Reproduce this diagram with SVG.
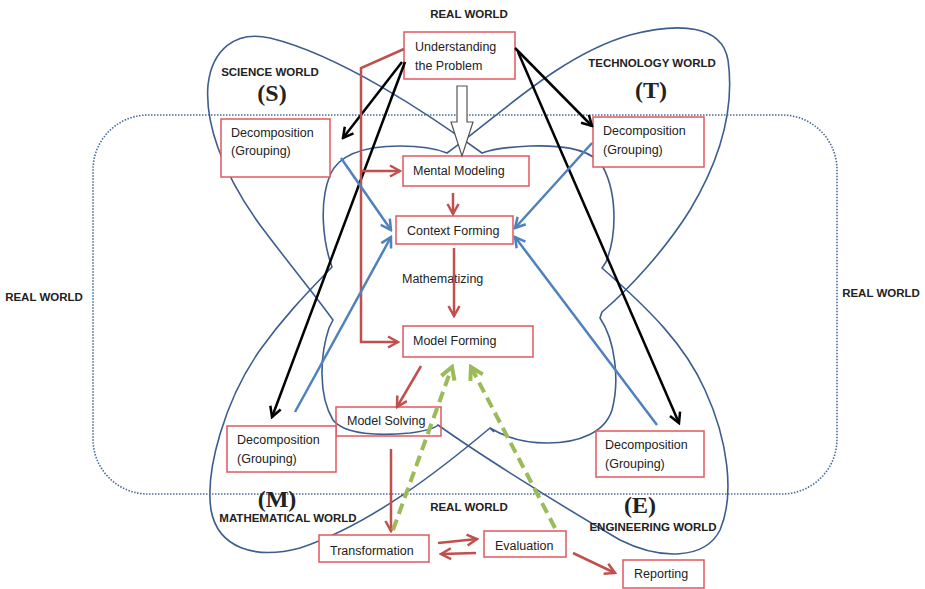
<svg xmlns="http://www.w3.org/2000/svg" width="925" height="589" viewBox="0 0 925 589">
<style>
.bx{fill:#fff;stroke:#e0585f;stroke-width:1.5}
.bxn{fill:none;stroke:#e0585f;stroke-width:1.5}
.t{font-family:"Liberation Sans",Arial,sans-serif;font-size:12.5px;fill:#222}
.lb{font-family:"Liberation Sans",Arial,sans-serif;font-size:11.5px;font-weight:bold;fill:#222}
.big{font-family:"Liberation Serif","Times New Roman",serif;font-size:24px;font-weight:bold;fill:#222}
.out{fill:none;stroke:#3d5d8e;stroke-width:1.6;stroke-linejoin:miter}
.ak{fill:none;stroke:#000;stroke-width:2.5}
.ar{fill:none;stroke:#c0504d;stroke-width:2.5}
.ab{fill:none;stroke:#4f81bd;stroke-width:2.5}
.ag{fill:none;stroke:#9bbb59;stroke-width:4;stroke-dasharray:11 6}
</style>
<defs>
<marker id="mk" viewBox="0 0 14 14" refX="12" refY="7" markerWidth="14" markerHeight="14" markerUnits="userSpaceOnUse" orient="auto"><path d="M2,1.5 L12,7 L2,12.5" fill="none" stroke="#000" stroke-width="2.5"/></marker>
<marker id="mr" viewBox="0 0 14 14" refX="12" refY="7" markerWidth="14" markerHeight="14" markerUnits="userSpaceOnUse" orient="auto"><path d="M2,1.5 L12,7 L2,12.5" fill="none" stroke="#c0504d" stroke-width="2.5"/></marker>
<marker id="mb" viewBox="0 0 14 14" refX="12" refY="7" markerWidth="14" markerHeight="14" markerUnits="userSpaceOnUse" orient="auto"><path d="M2,1.5 L12,7 L2,12.5" fill="none" stroke="#4f81bd" stroke-width="2.5"/></marker>
<marker id="mg" viewBox="0 0 18 18" refX="15" refY="9" markerWidth="18" markerHeight="18" markerUnits="userSpaceOnUse" orient="auto"><path d="M3,2 L15,9 L3,16" fill="none" stroke="#9bbb59" stroke-width="4"/></marker>
</defs>
<rect width="925" height="589" fill="#fff"/>

<g id="worlds">
<path class="out" d="M332,267 C324,245 318,205 330,175 C340,152 370,146 400,146 C420,146 437,149 447,153 L447,153 C500,115 560,55 630,35 C680,22 722,25 728,60 C735,110 720,160 690,210 C665,250 630,288 602,312 L600,318 C615,340 620,380 612,410 C605,432 580,443 547,443 C525,443 505,437 490,428 L494,432 L490,428 C440,470 370,525 300,548 C255,560 218,548 211,510 C205,470 225,400 260,350 C285,315 310,290 332,267 Z"/>
<path class="out" d="M333,320 L329,328 C320,355 318,395 333,420 C345,435 380,436 410,433 C425,431 435,428 438,425 C480,455 560,505 620,540 C660,560 705,560 720,530 C735,495 728,440 705,390 C685,345 650,310 602,268 L606,262 C617,235 618,190 600,162 C585,148 560,145 530,146 C505,147 490,150 482,153 C430,115 340,55 270,38 C235,30 212,50 208,85 C205,120 220,170 260,225 C290,265 315,295 333,320 Z"/>
<rect x="93" y="115" width="744" height="379" rx="55" fill="none" stroke="#4a6b9c" stroke-width="1.6" stroke-dasharray="1.5 1.5"/>
</g>

<g id="labels">
<text class="lb" x="469" y="18" text-anchor="middle">REAL WORLD</text>
<text class="lb" x="270" y="76" text-anchor="middle">SCIENCE WORLD</text>
<text class="big" x="272" y="101" text-anchor="middle">(S)</text>
<text class="lb" x="652" y="67" text-anchor="middle">TECHNOLOGY WORLD</text>
<text class="big" x="651" y="98" text-anchor="middle">(T)</text>
<text class="lb" x="44" y="301" text-anchor="middle">REAL WORLD</text>
<text class="lb" x="881" y="297" text-anchor="middle">REAL WORLD</text>
<text class="big" x="277" y="507" text-anchor="middle">(M)</text>
<text class="lb" x="288" y="522" text-anchor="middle">MATHEMATICAL WORLD</text>
<text class="lb" x="469" y="511" text-anchor="middle">REAL WORLD</text>
<text class="big" x="640" y="513" text-anchor="middle">(E)</text>
<text class="lb" x="653" y="531" text-anchor="middle">ENGINEERING WORLD</text>
<text class="t" x="402" y="283">Mathematizing</text>
</g>

<g id="n-understanding"><rect class="bx" x="404" y="32" width="111" height="47"/><text class="t" x="415" y="51">Understanding</text><text class="t" x="415" y="70">the Problem</text></g>
<g id="n-decomp-s"><rect class="bx" x="221" y="119" width="109" height="58"/><text class="t" x="231" y="137">Decomposition</text><text class="t" x="231" y="155">(Grouping)</text></g>
<g id="n-decomp-t"><rect class="bx" x="593" y="117" width="111" height="50"/><text class="t" x="603" y="135">Decomposition</text><text class="t" x="603" y="154">(Grouping)</text></g>
<g id="n-mental"><rect class="bx" x="403" y="156" width="126" height="30"/><text class="t" x="413" y="175">Mental Modeling</text></g>
<g id="n-context"><rect class="bx" x="396" y="216" width="117" height="28"/><text class="t" x="407" y="235">Context Forming</text></g>
<g id="n-model-forming"><rect class="bx" x="403" y="326" width="130" height="31"/><text class="t" x="413" y="345">Model Forming</text></g>
<g id="n-model-solving"><rect class="bxn" x="336" y="407" width="105" height="29"/><text class="t" x="347" y="425">Model Solving</text></g>
<g id="n-decomp-m"><rect class="bx" x="227" y="426" width="109" height="46"/><text class="t" x="237" y="444">Decomposition</text><text class="t" x="237" y="463">(Grouping)</text></g>
<g id="n-decomp-e"><rect class="bx" x="596" y="431" width="108" height="46"/><text class="t" x="605" y="449">Decomposition</text><text class="t" x="605" y="468">(Grouping)</text></g>
<g id="n-transformation"><rect class="bx" x="319" y="535" width="110" height="27"/><text class="t" x="330" y="555">Transformation</text></g>
<g id="n-evaluation"><rect class="bx" x="484" y="531" width="82" height="26"/><text class="t" x="495" y="550">Evaluation</text></g>
<g id="n-reporting"><rect class="bx" x="623" y="560" width="81" height="28"/><text class="t" x="634" y="578">Reporting</text></g>

<g id="connectors">
<polygon points="457,86 467,86 467,122 473,122 462,156 451,122 457,122" fill="#fff" stroke="#555" stroke-width="1.2"/>
<line class="ak" x1="402" y1="62" x2="343" y2="138" marker-end="url(#mk)"/>
<line class="ak" x1="405" y1="62" x2="272" y2="417" marker-end="url(#mk)"/>
<line class="ak" x1="515" y1="48" x2="592" y2="126" marker-end="url(#mk)"/>
<line class="ak" x1="518" y1="52" x2="679" y2="423" marker-end="url(#mk)"/>
<polyline class="ar" points="404,49 361,68 361,342 398,342" marker-end="url(#mr)"/>
<line class="ar" x1="361" y1="171" x2="400" y2="171" marker-end="url(#mr)"/>
<line class="ar" x1="453" y1="193" x2="453" y2="214" marker-end="url(#mr)"/>
<line class="ar" x1="454" y1="248" x2="454" y2="316" marker-end="url(#mr)"/>
<line class="ar" x1="421" y1="366" x2="397" y2="407" marker-end="url(#mr)"/>
<line class="ar" x1="391" y1="449" x2="391" y2="531" marker-end="url(#mr)"/>
<line class="ar" x1="438" y1="543" x2="477" y2="539" marker-end="url(#mr)"/>
<line class="ar" x1="476" y1="553" x2="441" y2="554" marker-end="url(#mr)"/>
<line class="ar" x1="573" y1="553" x2="615" y2="573" marker-end="url(#mr)"/>
<line class="ab" x1="341" y1="158" x2="391" y2="230" marker-end="url(#mb)"/>
<line class="ab" x1="295" y1="412" x2="391" y2="237" marker-end="url(#mb)"/>
<line class="ab" x1="592" y1="143" x2="515" y2="228" marker-end="url(#mb)"/>
<line class="ab" x1="657" y1="425" x2="515" y2="237" marker-end="url(#mb)"/>
<line class="ag" x1="393" y1="530" x2="452" y2="367" marker-end="url(#mg)"/>
<line class="ag" x1="555" y1="528" x2="471" y2="367" marker-end="url(#mg)"/>
</g>
</svg>
